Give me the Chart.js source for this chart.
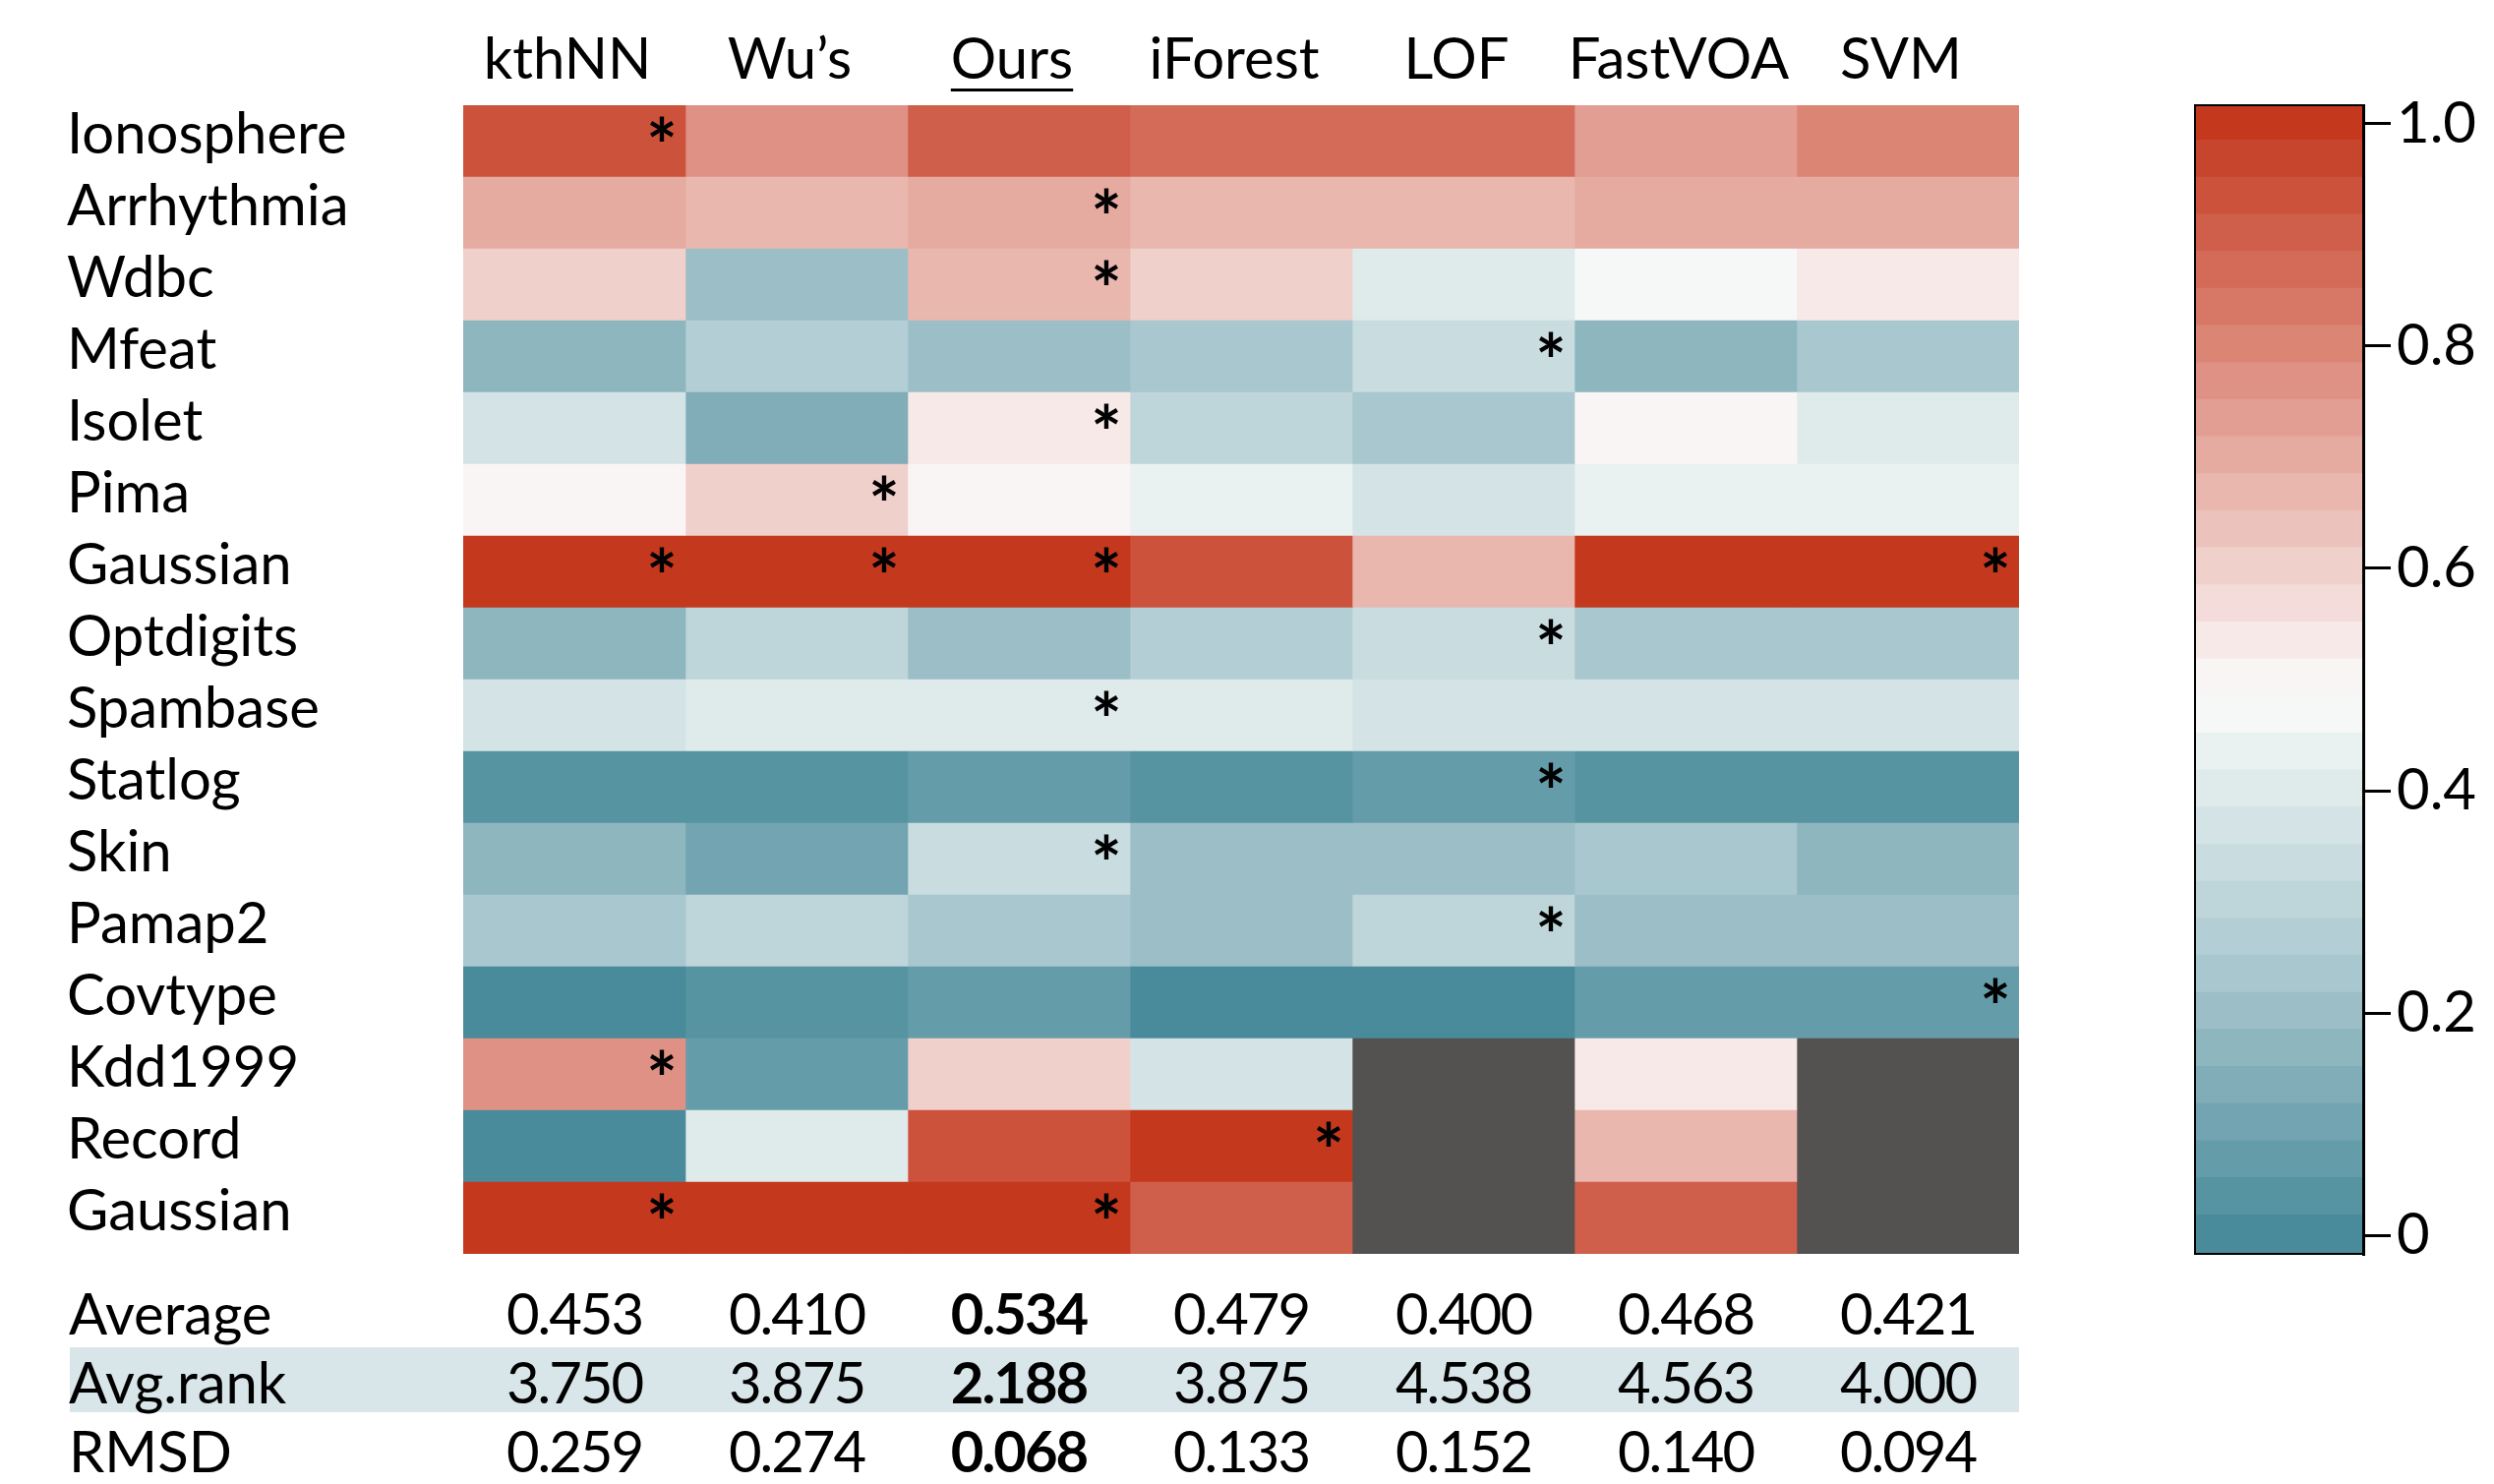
<!DOCTYPE html>
<html>
<head>
<meta charset="utf-8">
<script src="https://cdn.jsdelivr.net/npm/chart.js@4.4.1/dist/chart.umd.min.js"></script>
<style>
  html, body { margin: 0; padding: 0; background: #fff; }
  #wrap { position: relative; width: 2536px; height: 1509px; background: #fff; }
  #heat { position: absolute; left: 0; top: 0; }
  #bar { position: absolute; left: 2200px; top: 0; }
</style>
</head>
<body>
<div id="wrap">
  <canvas id="heat" width="2536" height="1509"></canvas>
  <canvas id="bar" width="336" height="1509"></canvas>
</div>
<script>
const methods = ['kthNN', 'Wu\u2019s', 'Ours', 'iForest', 'LOF', 'FastVOA', 'SVM'];
const dataSets = ['Ionosphere', 'Arrhythmia', 'Wdbc', 'Mfeat', 'Isolet', 'Pima', 'Gaussian', 'Optdigits',
  'Spambase', 'Statlog', 'Skin', 'Pamap2', 'Covtype', 'Kdd1999', 'Record', 'Gaussian'];

// values per method, one per data set (null = not available)
const kthNN   = [0.93, 0.70, 0.60, 0.17, 0.37, 0.50, 1.00, 0.17, 0.37, 0.03, 0.17, 0.23, 0.00, 0.77, 0.00, 1.00];
const wus     = [0.77, 0.67, 0.20, 0.27, 0.13, 0.60, 1.00, 0.30, 0.40, 0.03, 0.10, 0.30, 0.03, 0.07, 0.40, 1.00];
const ours    = [0.90, 0.70, 0.67, 0.20, 0.53, 0.50, 1.00, 0.20, 0.40, 0.07, 0.33, 0.23, 0.07, 0.60, 0.93, 1.00];
const iForest = [0.87, 0.67, 0.60, 0.23, 0.30, 0.43, 0.93, 0.27, 0.40, 0.03, 0.20, 0.20, 0.00, 0.37, 1.00, 0.90];
const lof     = [0.87, 0.67, 0.40, 0.33, 0.23, 0.37, 0.67, 0.33, 0.37, 0.07, 0.20, 0.30, 0.00, null, null, null];
const fastVOA = [0.73, 0.70, 0.47, 0.17, 0.50, 0.43, 1.00, 0.23, 0.37, 0.03, 0.23, 0.20, 0.07, 0.53, 0.67, 0.90];
const svm     = [0.80, 0.70, 0.53, 0.23, 0.40, 0.43, 1.00, 0.23, 0.37, 0.03, 0.17, 0.20, 0.07, null, null, null];
const series = [kthNN, wus, ours, iForest, lof, fastVOA, svm];

// [row, column] of the cells marked with *
const bestCells = [[0, 0], [1, 2], [2, 2], [3, 4], [4, 2], [5, 1], [6, 0], [6, 1], [6, 2], [6, 6],
  [7, 4], [8, 2], [9, 4], [10, 2], [11, 4], [12, 6], [13, 0], [14, 3], [15, 0], [15, 2]];

const average = [0.453, 0.410, 0.534, 0.479, 0.400, 0.468, 0.421];
const avgRank = [3.750, 3.875, 2.188, 3.875, 4.538, 4.563, 4.000];
const rmsd    = [0.259, 0.274, 0.068, 0.133, 0.152, 0.140, 0.094];

const barTicks = [0, 0.2, 0.4, 0.6, 0.8, 1.0];
const nBands = 31;

// colour scale: 31 steps, teal - white - red
const anchors = [
  [0, [74, 139, 155]], [7, [168, 199, 206]], [14, [245, 248, 247]],
  [15, [250, 245, 245]], [22, [226, 158, 146]], [30, [196, 56, 30]]
];
function bandColor(k) {
  for (let i = 0; i < anchors.length - 1; i++) {
    const [k0, c0] = anchors[i], [k1, c1] = anchors[i + 1];
    if (k >= k0 && k <= k1) {
      const t = (k - k0) / (k1 - k0);
      const c = c0.map((v, j) => Math.round(v + (c1[j] - v) * t));
      return `rgb(${c[0]},${c[1]},${c[2]})`;
    }
  }
  return '#000';
}
function colorFor(v) {
  if (v === null) return '#535250';
  return bandColor(Math.round(v * (nBands - 1)));
}

const FONT = 'Lato';
const font = { family: FONT, size: 58 };

const overlay = {
  id: 'overlay',
  afterDraw(chart) {
    const { ctx, chartArea } = chart;
    const xs = chart.scales.x, ys = chart.scales.y;
    ctx.save();
    // stars
    ctx.font = `bold 74px ${FONT}`;
    ctx.fillStyle = '#000';
    ctx.textAlign = 'center';
    ctx.textBaseline = 'alphabetic';
    const m = ctx.measureText('*');
    const half = (m.actualBoundingBoxAscent - m.actualBoundingBoxDescent) / 2;
    bestCells.forEach(([r, c]) => {
      const x = xs.getPixelForValue(c + 1) - 24;
      const y = ys.getPixelForValue(r) - 13;
      ctx.fillText('*', x, y + half);
    });
    // underline of "Ours"
    ctx.font = `58px ${FONT}`;
    const w = ctx.measureText(methods[2]).width;
    const cx = xs.getPixelForValue(2.5) - 7;
    ctx.fillRect(cx - w / 2, chartArea.top - 17, w, 3);
    // table below
    const rows = [['Average', average, 1357], ['Avg.rank', avgRank, 1427], ['RMSD', rmsd, 1497]];
    ctx.fillStyle = 'rgb(216,229,233)';
    ctx.fillRect(71, 1370, chartArea.right - 71, 66);
    ctx.fillStyle = '#000';
    rows.forEach(([label, vals, base]) => {
      ctx.font = `58px ${FONT}`;
      ctx.letterSpacing = '0px';
      ctx.textAlign = 'left';
      ctx.fillText(label, 70, base);
      ctx.textAlign = 'center';
      ctx.letterSpacing = '-2px';
      vals.forEach((v, c) => {
        ctx.font = (c === 2 ? 'bold ' : '') + `58px ${FONT}`;
        ctx.fillText(v.toFixed(3), xs.getPixelForValue(c + 0.5), base);
      });
    });
    ctx.restore();
  }
};

new Chart(document.getElementById('heat'), {
  type: 'bar',
  data: {
    labels: dataSets,
    datasets: series.map((vals, c) => ({
      label: methods[c],
      data: vals.map(() => [c, c + 1]),
      backgroundColor: vals.map(colorFor),
      borderWidth: 0,
      grouped: false,
      barPercentage: 1,
      categoryPercentage: 1
    }))
  },
  options: {
    indexAxis: 'y',
    responsive: false,
    animation: false,
    devicePixelRatio: 1,
    layout: { padding: { left: 68, right: 483, top: 0, bottom: 234 } },
    plugins: { legend: { display: false }, tooltip: { enabled: false } },
    scales: {
      x: {
        type: 'linear', position: 'top', min: 0, max: 7,
        afterBuildTicks: s => { s.ticks = methods.map((m, i) => ({ value: i + 0.5 })); },
        afterFit: s => { s.height = 107; },
        grid: { display: false, drawTicks: false },
        border: { display: false },
        ticks: { callback: (v, i) => methods[i], font, color: '#000', padding: 11, labelOffset: -7, autoSkip: false, maxRotation: 0 }
      },
      y: {
        type: 'category',
        afterFit: s => { s.width = 403; },
        grid: { display: false, drawTicks: false },
        border: { display: false },
        ticks: { font, color: '#000', crossAlign: 'far', padding: 0, labelOffset: -6, autoSkip: false }
      }
    }
  },
  plugins: [overlay]
});

// colour bar
const outline = {
  id: 'outline',
  afterDraw(chart) {
    const { ctx, chartArea } = chart;
    ctx.save();
    ctx.strokeStyle = '#000';
    ctx.lineWidth = 2;
    ctx.strokeRect(chartArea.left, chartArea.top, chartArea.right - chartArea.left, chartArea.bottom - chartArea.top);
    ctx.restore();
  }
};

const bands = Array.from({ length: nBands }, (_, k) => k);
new Chart(document.getElementById('bar'), {
  type: 'bar',
  data: {
    labels: [''],
    datasets: bands.map(k => ({
      data: [[(k - 0.5) / (nBands - 1), (k + 0.5) / (nBands - 1) + (k < nBands - 1 ? 0.002 : 0)]],
      backgroundColor: bandColor(k),
      borderWidth: 0,
      grouped: false,
      barPercentage: 1,
      categoryPercentage: 1
    }))
  },
  options: {
    responsive: false,
    animation: false,
    devicePixelRatio: 1,
    layout: { padding: { left: 32, right: 0, top: 107, bottom: 234 } },
    plugins: { legend: { display: false }, tooltip: { enabled: false } },
    scales: {
      x: { display: false },
      y: {
        position: 'right',
        min: -0.5 / (nBands - 1), max: 1 + 0.5 / (nBands - 1),
        afterBuildTicks: s => { s.ticks = barTicks.map(v => ({ value: v })); },
        afterFit: s => { s.width = 133; },
        grid: { drawOnChartArea: false, drawTicks: true, tickLength: 28, color: '#000', lineWidth: 3 },
        border: { display: true, color: '#000', width: 3 },
        ticks: { callback: v => v === 0 ? '0' : v.toFixed(1), font, color: '#000', padding: 6 }
      }
    }
  },
  plugins: [outline]
});
</script>
</body>
</html>
